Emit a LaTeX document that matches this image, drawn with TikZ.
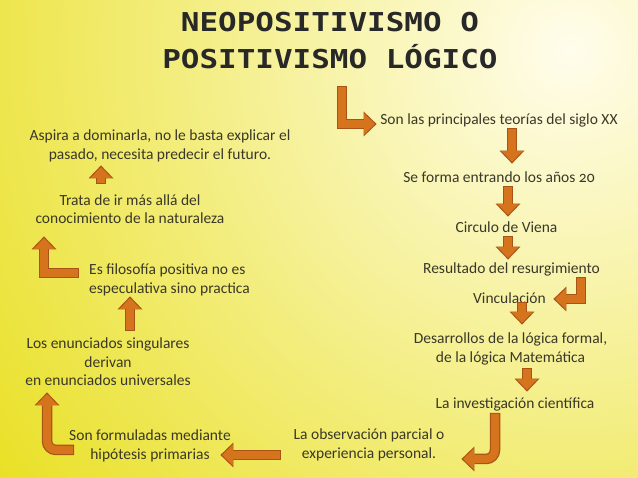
\documentclass[tikz,border=0pt]{standalone}
\usepackage{fontspec}
\setmainfont{Carlito}[Numbers=OldStyle]
\newfontfamily\titlefont{DejaVu Sans Mono}[FakeStretch=1.19]
\usepackage{tikz}
\usetikzlibrary{arrows.meta}
\definecolor{fondoam}{RGB}{230,220,8}
\definecolor{fondobl}{RGB}{255,253,236}
\definecolor{naranja}{RGB}{214,116,30}
\definecolor{borde}{RGB}{168,84,22}
\definecolor{texto}{RGB}{58,56,40}
\definecolor{titulo}{RGB}{40,40,40}

\begin{document}
\begin{tikzpicture}
                [
                x=1pt,y=-1pt,
                tit/.style={text=titulo,align=center,inner sep=0pt,font=\titlefont\bfseries\fontsize{26}{37}\selectfont},
                txt/.style={text=texto,align=center,inner sep=0pt,font=\fontsize{15.5}{18.5}\selectfont},
                blk/.style={draw=naranja,line width=8pt,-{Triangle[width=21pt,length=11pt,line width=0pt]},
                    preaction={draw=borde,line width=10.5pt,shorten >=-1.6pt,shorten <=-1.2pt,
                    -{Triangle[width=25pt,length=13pt,line width=0pt]}}}
                ]
            \useasboundingbox (0,0) rectangle (638,478);
            \fill[fondoam] (0,0) rectangle (638,478);
            \begin{scope}
            \clip (0,0) rectangle (638,478);
            \shade[inner color=fondobl,outer color=fondoam] (570,50) circle (820);
            \end{scope}
            \node[tit] (titulo) at (330,40.5) {NEOPOSITIVISMO O\\POSITIVISMO LÓGICO};
            \node[txt] (teorias) at (499,120) {Son las principales teorías del siglo XX};
            \node[txt] (anos) at (499,177) {Se forma entrando los años 20};
            \node[txt] (viena) at (506.5,227) {Circulo de Viena};
            \node[txt] (resurg) at (511.5,269) {Resultado del resurgimiento};
            \node[txt] (vinc) at (509.5,298) {Vinculación};
            \node[txt] (desarr) at (510.5,349) {Desarrollos de la lógica formal,\\de la lógica Matemática};
            \node[txt] (invest) at (515,404) {La investigación científica};
            \node[txt] (observ) at (369,445) {La observación parcial o\\experiencia personal.};
            \node[txt] (hipot) at (150,446) {Son formuladas mediante\\hipótesis primarias};
            \node[txt] (enunc) at (108,362) {Los enunciados singulares\\derivan\\en enunciados universales};
            \node[txt,align=left,anchor=west] (filos) at (89,280) {Es filosofía positiva no es\\especulativa sino practica};
            \node[txt] (trata) at (130,209) {Trata de ir más allá del\\conocimiento de la naturaleza};
            \node[txt] (aspira) at (160,146) {Aspira a dominarla, no le basta explicar el\\pasado, necesita predecir el futuro.};
            \coordinate (f0a) at (342,87);
            \coordinate (f0b) at (375,124);
            \coordinate (f1a) at (512,129);
            \coordinate (f1b) at (512,162);
            \coordinate (f2a) at (508,187);
            \coordinate (f2b) at (508,215);
            \coordinate (f3a) at (508,237);
            \coordinate (f3b) at (508,258);
            \coordinate (f4a) at (581,278);
            \coordinate (f4b) at (555,299);
            \coordinate (f5a) at (522,303);
            \coordinate (f5b) at (522,323);
            \coordinate (f6a) at (527,369);
            \coordinate (f6b) at (527,390);
            \coordinate (f7a) at (495,414);
            \coordinate (f7b) at (463,459);
            \coordinate (f8a) at (280,455);
            \coordinate (f8b) at (222,455);
            \coordinate (f9a) at (73,450);
            \coordinate (f9b) at (47,394);
            \coordinate (f10a) at (130,330);
            \coordinate (f10b) at (130,298);
            \coordinate (f11a) at (78,273);
            \coordinate (f11b) at (44,238);
            \coordinate (f12a) at (101,183);
            \coordinate (f12b) at (101,167);
            \draw[blk] (f0a) |- (f0b);
            \draw[blk] (f1a) -- (f1b);
            \draw[blk] (f2a) -- (f2b);
            \draw[blk] (f3a) -- (f3b);
            \draw[blk] (f4a) |- (f4b);
            \draw[blk] (f5a) -- (f5b);
            \draw[blk] (f6a) -- (f6b);
            \draw[blk,rounded corners=9pt] (f7a) |- (f7b);
            \draw[blk] (f8a) -- (f8b);
            \draw[blk,rounded corners=9pt] (f9a) -| (f9b);
            \draw[blk] (f10a) -- (f10b);
            \draw[blk] (f11a) -| (f11b);
            \draw[blk] (f12a) -- (f12b);
            \end{tikzpicture}
\end{document}
